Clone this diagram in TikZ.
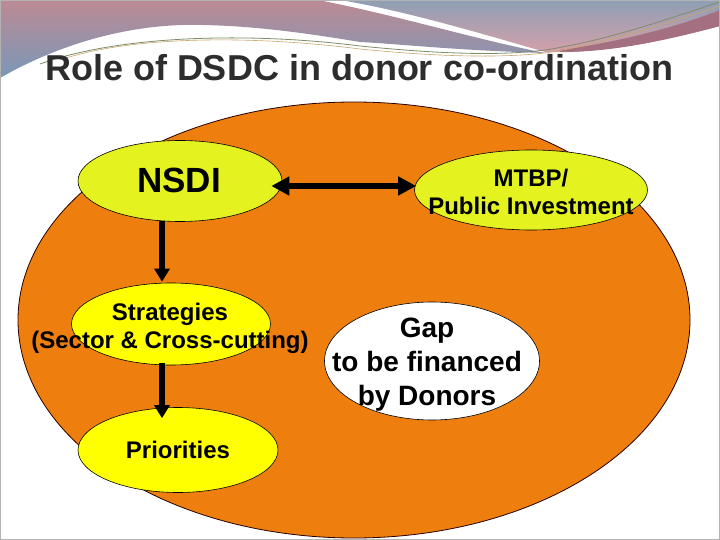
\documentclass[tikz,border=0pt]{standalone}
\usepackage{fontspec}
\setmainfont{Liberation Sans}
\usetikzlibrary{shapes.geometric,arrows.meta}
\definecolor{SlideOrange}{HTML}{EE7F0E}
\definecolor{SlideLime}{HTML}{E4F21F}
\definecolor{SlideYellow}{HTML}{FFFF00}
\definecolor{SlideTitle}{HTML}{2D2D2D}
\definecolor{BandPink}{HTML}{BC8A94}
\definecolor{BandBlue}{HTML}{7A98B8}
\definecolor{BandGrey}{HTML}{8E9FB4}
\definecolor{BandRose}{HTML}{D6A0AA}
\definecolor{BandMauve}{HTML}{A56F82}
\definecolor{RibbonGreen}{HTML}{7F8C6A}
\definecolor{RibbonGold}{HTML}{C9A66B}

\begin{document}
\begin{tikzpicture}[x=1pt, y=-1pt,
  bigell/.style={ellipse, draw=black!85!red, fill=SlideOrange, line width=0.8pt, inner sep=0pt},
  limeell/.style={ellipse, draw=black, fill=SlideLime, line width=0.6pt, inner sep=0pt},
  yellowell/.style={ellipse, draw=black, fill=SlideYellow, line width=0.6pt, inner sep=0pt},
  whiteell/.style={ellipse, draw=black, fill=white, line width=0.6pt, inner sep=0pt},
  lbl/.style={align=center, inner sep=0pt, text=black},
  dbl/.style={{Triangle[length=18pt,width=18pt]}-{Triangle[length=18pt,width=18pt]}, line width=5.5pt},
  vflow/.style={-{Triangle[length=13pt,width=15pt]}, line width=5.5pt}
]
\useasboundingbox (0,0) rectangle (720,540);
\fill[white] (0,0) rectangle (720,540);
% top band
\shade[top color=BandPink, bottom color=BandBlue] (0,0) -- (318,0)
  .. controls (400,16) and (470,38) .. (545,53)
  .. controls (450,50) and (400,44) .. (360,42)
  .. controls (300,32) and (240,24) .. (183,25)
  .. controls (110,27) and (45,52) .. (0,78) -- cycle;
\shade[top color=BandGrey, bottom color=BandRose] (340,0) -- (720,0) -- (720,26)
  .. controls (660,42) and (600,54) .. (545,52)
  .. controls (470,30) and (400,10) .. (340,0) -- cycle;
\fill[BandMauve] (560,50) .. controls (620,42) and (680,26) .. (720,10) -- (720,26)
  .. controls (660,42) and (610,52) .. (560,52) -- cycle;
\draw[RibbonGreen, line width=0.8pt] (40,64) .. controls (120,35) and (250,32) .. (360,46)
  .. controls (440,54) and (500,56) .. (545,50) .. controls (610,40) and (670,18) .. (720,2);
\draw[RibbonGold, line width=0.6pt] (60,60) .. controls (130,36) and (250,35) .. (360,49)
  .. controls (440,57) and (500,58) .. (545,53) .. controls (610,43) and (670,22) .. (720,6);
\draw[gray!60, line width=1.2pt] (0.6,0.6) rectangle (719.4,539.4);

\node[font=\bfseries\fontsize{36}{40}\selectfont, text=SlideTitle, anchor=base] (title) at (359,81) {Role of DSDC in donor co-ordination};

\node[bigell, minimum width=672pt, minimum height=436pt] (field) at (354,320) {};
\node[limeell, minimum width=204pt, minimum height=81pt] (nsdi) at (180,181) {};
\node[limeell, minimum width=233pt, minimum height=80pt] (mtbp) at (531,190) {};
\node[yellowell, minimum width=199pt, minimum height=82pt] (strat) at (171,324) {};
\node[yellowell, minimum width=200pt, minimum height=85pt] (prio) at (178,450) {};
\node[whiteell, minimum width=215pt, minimum height=118pt] (gap) at (432,361) {};

\draw[dbl] ([shift={(-11,5)}]nsdi.east) -- ([shift={(2,-4)}]mtbp.west);
\draw[vflow] ([shift={(-18,-1)}]nsdi.south) -- ([shift={(-9,-1)}]strat.north);
\draw[vflow] ([shift={(-9,-2)}]strat.south) -- ([shift={(-16,11)}]prio.north);

\node[lbl, font=\bfseries\fontsize{35}{40}\selectfont] (nsdiT) at ([shift={(-1,-1)}]nsdi.center) {NSDI};
\node[lbl, font=\bfseries\fontsize{24}{28}\selectfont] (mtbpT) at ([shift={(0,2)}]mtbp.center) {MTBP/\\Public Investment};
\node[lbl, font=\bfseries\fontsize{24}{28}\selectfont] (stratT) at ([shift={(-1,4)}]strat.center) {Strategies\\(Sector \& Cross-cutting)};
\node[lbl, font=\bfseries\fontsize{28}{34}\selectfont] (gapT) at ([shift={(-5,4)}]gap.center) {Gap\\to be financed\\by Donors};
\node[lbl, font=\bfseries\fontsize{24}{28}\selectfont] (prioT) at (prio.center) {Priorities};
\end{tikzpicture}
\end{document}
